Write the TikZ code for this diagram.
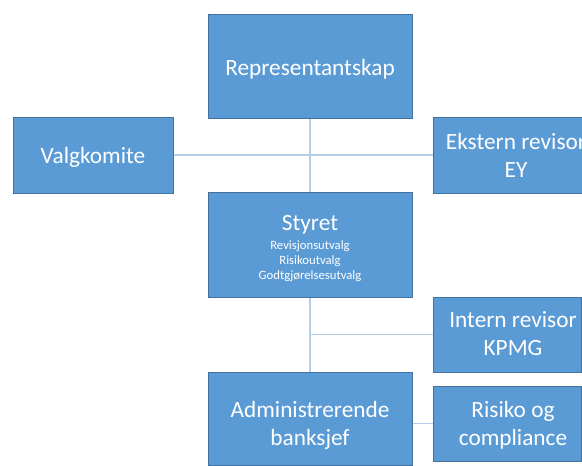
\documentclass[tikz,border=0pt]{standalone}
\usepackage{fontspec}
\setmainfont{Carlito}
\definecolor{boxfill}{HTML}{5B9BD5}
\definecolor{boxline}{HTML}{41719C}
\definecolor{conn}{HTML}{B4CFEA}
\begin{document}
\begin{tikzpicture}[x=1pt,y=-1pt,
  box/.style={rectangle, draw=boxline, fill=boxfill, line width=0.9pt, inner sep=0pt},
  big/.style={text=white, anchor=base, align=center, inner sep=0pt, font=\fontsize{23.3}{28}\selectfont},
  small/.style={text=white, anchor=base, align=center, inner sep=0pt, font=\fontsize{12.7}{15}\selectfont},
  link/.style={draw=conn, line width=1.3pt}]
\useasboundingbox (0,0) rectangle (582,466);
\clip (0,0) rectangle (582,466);
\fill[white] (0,0) rectangle (582,466);
% box positions
\coordinate (repc) at (310,66);
\coordinate (valc) at (93,155);
\coordinate (eksc) at (516,155);
\coordinate (styc) at (310,244.5);
\coordinate (intc) at (507,334.5);
\coordinate (admc) at (310,418.5);
\coordinate (risc) at (507,423.5);
% box geometry (for connectors, drawn below the boxes)
\path node[minimum width=204pt, minimum height=104pt] (rep) at (repc) {}
      node[minimum width=160pt, minimum height=76pt] (val) at (valc) {}
      node[minimum width=166pt, minimum height=76pt] (eks) at (eksc) {}
      node[minimum width=204pt, minimum height=105pt] (sty) at (styc) {}
      node[minimum width=148pt, minimum height=75pt] (int) at (intc) {}
      node[minimum width=204pt, minimum height=93pt] (adm) at (admc) {}
      node[minimum width=148pt, minimum height=75pt] (ris) at (risc) {};
% connectors
\coordinate (jint) at (sty.south |- int.west);
\draw[link] (rep.south) -- (sty.north);
\draw[link] (val.east) -- (eks.west);
\draw[link] (sty.south) -- (adm.north);
\draw[link] (jint) -- (int.west);
\draw[link] (adm.east |- ris.west) -- (ris.west);
% boxes
\node[box, minimum width=204pt, minimum height=104pt] (repb) at (repc) {};
\node[box, minimum width=160pt, minimum height=76pt] (valb) at (valc) {};
\node[box, minimum width=166pt, minimum height=76pt] (eksb) at (eksc) {};
\node[box, minimum width=204pt, minimum height=105pt] (styb) at (styc) {};
\node[box, minimum width=148pt, minimum height=75pt] (intb) at (intc) {};
\node[box, minimum width=204pt, minimum height=93pt] (admb) at (admc) {};
\node[box, minimum width=148pt, minimum height=75pt] (risb) at (risc) {};
% texts (two-line nodes are anchored at the baseline of their last line)
\node[big] (trep) at (310,75) {Representantskap};
\node[big] (tval) at (93,163) {Valgkomite};
\node[big] (teks) at (516,177) {Ekstern revisor\\EY};
\node[big] (tsty) at (310,230) {Styret};
\node[small] (tsty1) at (310,249) {Revisjonsutvalg};
\node[small] (tsty2) at (310,264) {Risikoutvalg};
\node[small] (tsty3) at (310,279) {Godtgjørelsesutvalg};
\node[big] (tint) at (513,355) {Intern revisor\\KPMG};
\node[big] (tadm) at (310,445) {Administrerende\\banksjef};
\node[big] (tris) at (513,445) {Risiko og\\compliance};
\end{tikzpicture}
\end{document}
